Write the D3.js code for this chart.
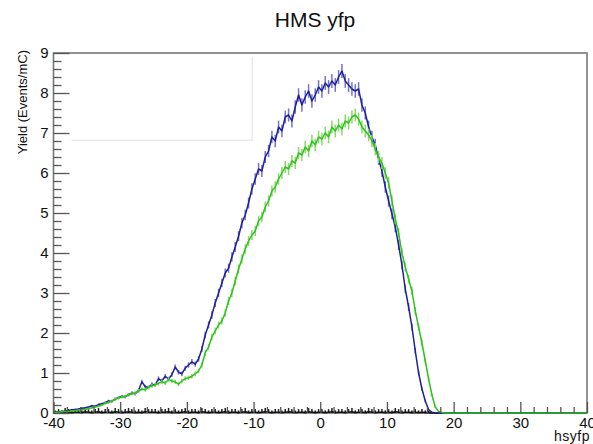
<!DOCTYPE html>
<html lang="en">
<head>
    <meta charset="UTF-8">
    <title>HMS yfp</title>
    <script type="text/javascript" src="https://cdn.jsdelivr.net/npm/d3@7/dist/d3.min.js"></script>
    <style>
        body { margin: 0; background: #fff; }
        text { font-family: "Liberation Sans", Arial, sans-serif; }
    </style>
</head>
<body>
<script type="text/javascript">

    // histogram binning (80 units, 0.5 per bin)
    var xMin = -40, xMax = 40, binWidth = 0.5;
    var xTicks = [-40, -30, -20, -10, 0, 10, 20, 30, 40];
    var yTicks = [0, 1, 2, 3, 4, 5, 6, 7, 8, 9];

    // yield per bin
    var blueYield = [
        0.01, 0.03, 0.04, 0.05, 0.06, 0.08, 0.09, 0.10, 0.12, 0.13,
        0.15, 0.18, 0.17, 0.21, 0.23, 0.26, 0.30, 0.29, 0.35, 0.38,
        0.42, 0.40, 0.46, 0.50, 0.48, 0.56, 0.78, 0.66, 0.64, 0.72,
        0.70, 0.86, 0.80, 0.92, 0.85, 0.96, 1.15, 1.02, 0.98, 1.12,
        1.20, 1.28, 1.22, 1.35, 1.60, 1.95, 2.20, 2.45, 2.75, 3.00,
        3.25, 3.50, 3.62, 3.90, 4.15, 4.42, 4.75, 4.95, 5.25, 5.60,
        5.85, 6.10, 6.05, 6.40, 6.55, 6.90, 6.80, 7.15, 7.05, 7.40,
        7.45, 7.30, 7.65, 7.95, 7.70, 7.90, 8.05, 7.80, 7.95, 8.15,
        8.05, 8.25, 8.15, 8.30, 8.20, 8.40, 8.55, 8.30, 8.20, 8.10,
        8.05, 8.10, 7.70, 7.50, 7.15, 6.90, 6.70, 6.35, 6.05, 5.65,
        5.30, 4.98, 4.65, 4.20, 3.70, 3.10, 2.65, 2.15, 1.55, 1.00,
        0.60, 0.30, 0.08, 0.02, 0, 0, 0, 0, 0, 0,
        0, 0, 0, 0, 0, 0, 0, 0, 0, 0,
        0, 0, 0, 0, 0, 0, 0, 0, 0, 0,
        0, 0, 0, 0, 0, 0, 0, 0, 0, 0,
        0, 0, 0, 0, 0, 0, 0, 0, 0, 0
    ];
    var greenYield = [
        0.01, 0.02, 0.03, 0.04, 0.04, 0.05, 0.06, 0.07, 0.08, 0.09,
        0.11, 0.13, 0.15, 0.17, 0.20, 0.24, 0.26, 0.30, 0.34, 0.38,
        0.40, 0.42, 0.45, 0.48, 0.50, 0.55, 0.60, 0.58, 0.64, 0.68,
        0.70, 0.74, 0.78, 0.75, 0.84, 0.80, 0.78, 0.72, 0.80, 0.86,
        0.88, 0.92, 0.98, 1.05, 1.20, 1.50, 1.65, 1.90, 2.05, 2.20,
        2.30, 2.50, 2.80, 3.00, 3.30, 3.60, 3.85, 4.10, 4.30, 4.45,
        4.55, 4.80, 4.90, 5.15, 5.30, 5.55, 5.65, 5.85, 6.00, 6.15,
        6.10, 6.30, 6.25, 6.50, 6.45, 6.65, 6.55, 6.80, 6.70, 6.90,
        6.85, 7.00, 6.90, 7.15, 7.05, 7.20, 7.10, 7.30, 7.25, 7.40,
        7.45, 7.35, 7.15, 7.05, 6.95, 6.80, 6.60, 6.40, 6.25, 6.00,
        5.75, 5.30, 4.85, 4.50, 4.00, 3.65, 3.35, 3.05, 2.55, 2.15,
        1.75, 1.30, 0.85, 0.45, 0.15, 0.04, 0.01, 0, 0, 0,
        0, 0, 0, 0, 0, 0, 0, 0, 0, 0,
        0, 0, 0, 0, 0, 0, 0, 0, 0, 0,
        0, 0, 0, 0, 0, 0, 0, 0, 0, 0,
        0, 0, 0, 0, 0, 0, 0, 0, 0, 0
    ];
    var blackYield = [
        0.01, 0.02, 0.01, 0.03, 0.02, 0.01, 0.02, 0.02, 0.01, 0.03,
        0.02, 0.01, 0.02, 0.03, 0.01, 0.02, 0.02, 0.01, 0.03, 0.02,
        0.01, 0.02, 0.03, 0.02, 0.01, 0.02, 0.01, 0.03, 0.02, 0.02,
        0.02, 0.01, 0.02, 0.02, 0.03, 0.01, 0.02, 0.01, 0.02, 0.03,
        0.01, 0.02, 0.02, 0.01, 0.03, 0.02, 0.01, 0.02, 0.02, 0.01,
        0.02, 0.03, 0.01, 0.02, 0.02, 0.01, 0.02, 0.03, 0.01, 0.02,
        0.02, 0.01, 0.02, 0.03, 0.02, 0.01, 0.02, 0.02, 0.01, 0.02,
        0.03, 0.02, 0.01, 0.02, 0.02, 0.01, 0.03, 0.02, 0.01, 0.02,
        0.02, 0.01, 0.02, 0.03, 0.01, 0.02, 0.02, 0.01, 0.02, 0.03,
        0.01, 0.02, 0.02, 0.01, 0.03, 0.02, 0.01, 0.02, 0.02, 0.01,
        0.02, 0.01, 0.03, 0.02, 0.01, 0.02, 0.02, 0.01, 0.02, 0.01,
        0.02, 0.01, 0.01, 0, 0, 0, 0, 0, 0, 0,
        0, 0, 0, 0, 0, 0, 0, 0, 0, 0,
        0, 0, 0, 0, 0, 0, 0, 0, 0, 0,
        0, 0, 0, 0, 0, 0, 0, 0, 0, 0,
        0, 0, 0, 0, 0, 0, 0, 0, 0, 0
    ];

    var W = 593, H = 444;
    var padL = 53.5, padR = 587, padT = 53, padB = 413;

    var mysvg = d3.select("body").append("svg").attr("width", W).attr("height", H);

    var x = d3.scaleLinear().domain([xMin, xMax]).range([padL, padR]);
    var y = d3.scaleLinear().domain([0, 9]).range([padB, padT]);

    // frame (drawn first so the histograms sit on top of it, as in ROOT)
    mysvg.append("rect").attr("x", padL).attr("y", padT)
        .attr("width", padR - padL).attr("height", padB - padT)
        .attr("fill", "none").attr("stroke", "#777").attr("stroke-width", 1.6);

    // faint leftover box (stats box ghost)
    mysvg.append("path")
        .attr("d", "M" + x(-37.3) + "," + y(6.82) + "H" + x(-10.2) + "V" + y(8.9))
        .attr("fill", "none").attr("stroke", "#ebebeb").attr("stroke-width", 1.5);

    function centers(vals) {
        return vals.map(function (v, i) {
            return {x: xMin + (i + 0.5) * binWidth, v: v};
        });
    }

    var line = d3.line()
        .x(function (d) { return x(d.x); })
        .y(function (d) { return y(d.v); });

    function drawHist(vals, lineColor, errColor, errScale, lw) {
        var pts = centers(vals);
        var full = [{x: xMin, v: 0}].concat(pts).concat([{x: xMax, v: 0}]);
        var g = mysvg.append("g");
        // error bars (poisson-like from the yield)
        g.selectAll("line").data(pts.filter(function (d) { return d.v > 0; })).enter().append("line")
            .attr("x1", function (d) { return x(d.x); })
            .attr("x2", function (d) { return x(d.x); })
            .attr("y1", function (d) { return y(Math.max(0, d.v - errScale * Math.sqrt(d.v))); })
            .attr("y2", function (d) { return y(d.v + errScale * Math.sqrt(d.v)); })
            .attr("stroke", errColor).attr("stroke-width", 1.5);
        g.append("path").datum(full)
            .attr("d", line)
            .attr("fill", "none")
            .attr("stroke", lineColor)
            .attr("stroke-width", lw)
            .attr("stroke-linejoin", "round");
    }

    drawHist(blackYield, "#111", "#222", 0.55, 1.6);
    drawHist(blueYield, "#20209c", "#7474cc", 0.06, 1.5);
    drawHist(greenYield, "#2ec21c", "#86da66", 0.06, 1.5);

    //Axis
    var fmt = function (d) { return String(d); };
    var yMinor = d3.range(0, 9.01, 0.2).filter(function (d) { return Math.abs(d - Math.round(d)) > 0.01; });
    var xMinor = d3.range(xMin, xMax + 0.1, 2).filter(function (d) { return d % 10 !== 0; });

    mysvg.append("g").attr("transform", "translate(" + padL + ",0)")
        .call(d3.axisLeft(y).tickValues(yMinor).tickFormat("").tickSizeInner(-8).tickSizeOuter(0));
    mysvg.append("g").attr("class", "yax").attr("transform", "translate(" + padL + ",0)")
        .call(d3.axisLeft(y).tickValues(yTicks).tickFormat(fmt).tickSizeInner(-16).tickSizeOuter(0).tickPadding(5));

    mysvg.append("g").attr("transform", "translate(0," + padB + ")")
        .call(d3.axisBottom(x).tickValues(xMinor).tickFormat("").tickSizeInner(-6).tickSizeOuter(0));
    mysvg.append("g").attr("class", "xax").attr("transform", "translate(0," + padB + ")")
        .call(d3.axisBottom(x).tickValues(xTicks).tickFormat(fmt).tickSizeInner(-11).tickSizeOuter(0).tickPadding(4));

    mysvg.selectAll(".tick line").attr("stroke", "#555").attr("stroke-width", 1.3);
    mysvg.selectAll(".domain").attr("stroke", "none");
    mysvg.selectAll(".tick text").attr("fill", "#111").style("font-size", "15px")
        .style("font-family", "'Liberation Sans', Arial, sans-serif");

    // titles
    mysvg.append("text").attr("x", 315).attr("y", 27).attr("text-anchor", "middle")
        .style("font-size", "21px").attr("fill", "#111").text("HMS yfp");
    mysvg.append("text").attr("transform", "translate(27,50) rotate(-90)")
        .attr("text-anchor", "end").style("font-size", "13px").attr("fill", "#111")
        .text("Yield (Events/mC)");
    mysvg.append("text").attr("x", 590).attr("y", 441).attr("text-anchor", "end")
        .style("font-size", "14px").style("letter-spacing", "0.5px").attr("fill", "#111").text("hsyfp");

</script>
</body>
</html>
